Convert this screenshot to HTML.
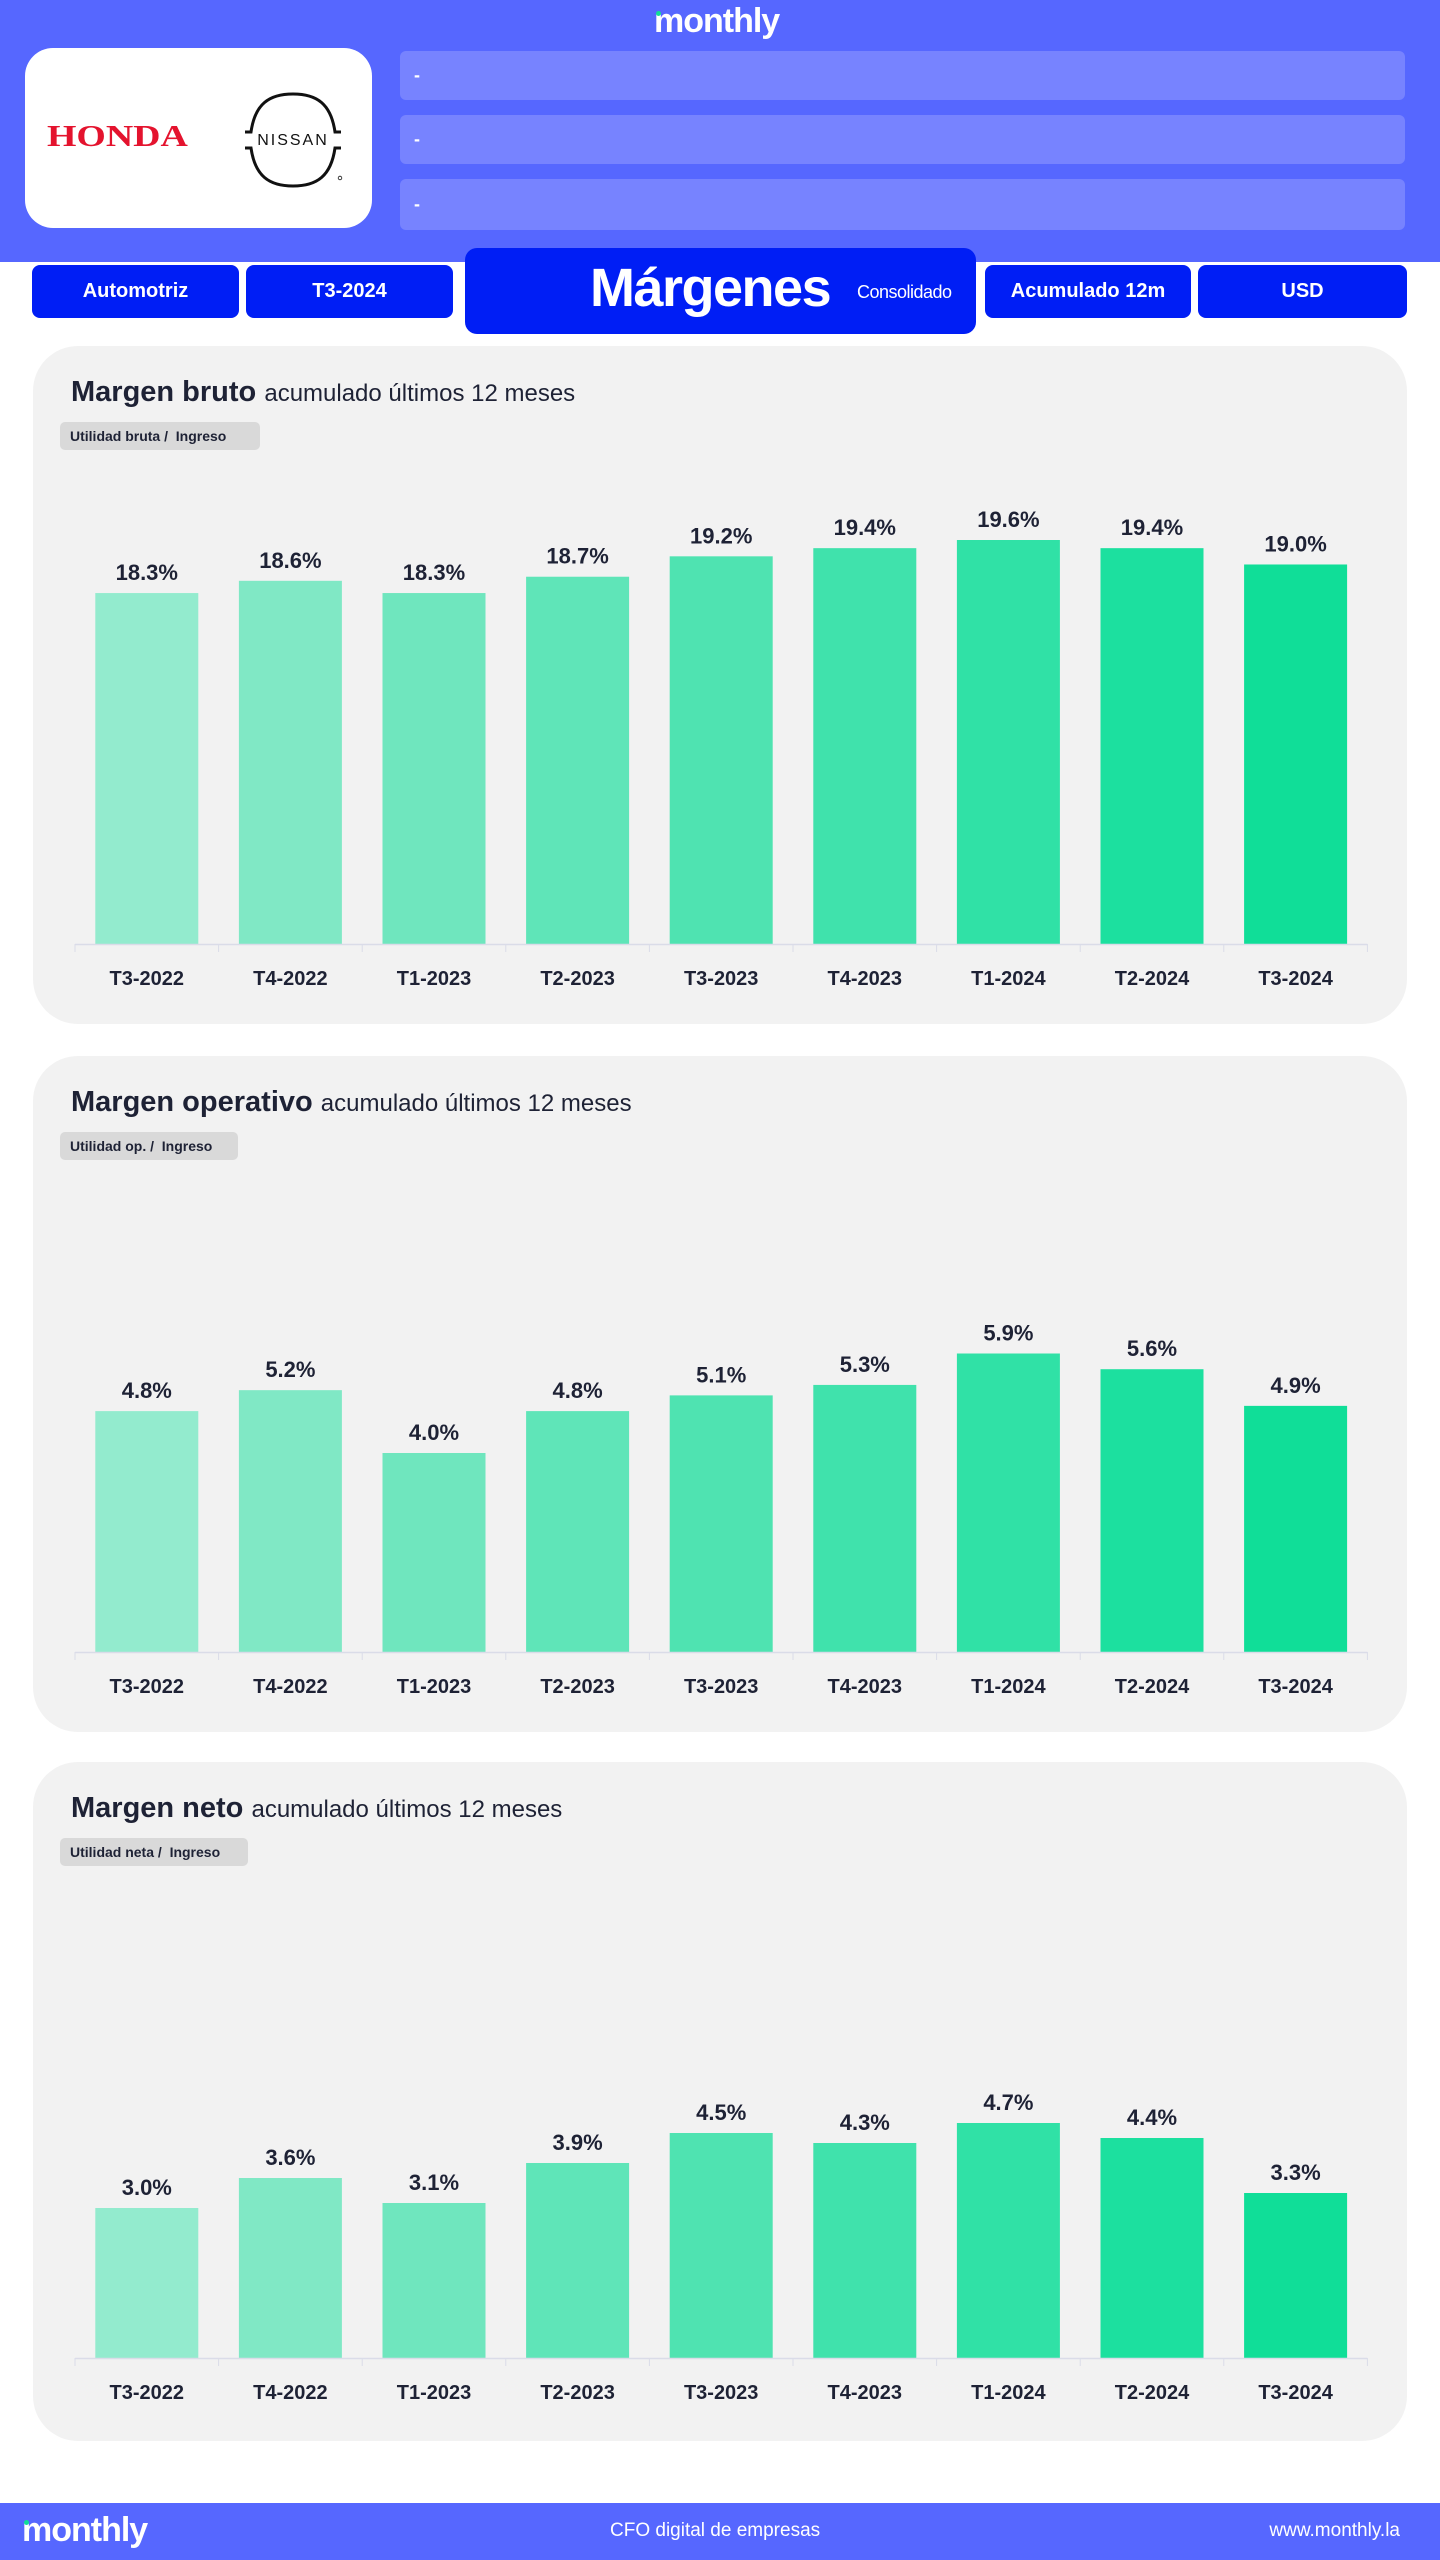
<!DOCTYPE html>
<html><head><meta charset="utf-8">
<style>
*{margin:0;padding:0;box-sizing:border-box}
body{width:1440px;height:2560px;position:relative;background:#fff;font-family:"Liberation Sans",sans-serif;overflow:hidden}
.abs{position:absolute}
.hdr{left:0;top:0;width:1440px;height:262px;background:#5667FF}
.info{left:400px;width:1005px;background:#7783FF;border-radius:6px;color:#fff;font-weight:bold;font-size:18px;padding-left:14px;display:flex;align-items:center}
.tab{top:265px;height:53px;background:#001EF5;border-radius:8px;color:#fff;font-weight:bold;font-size:20px;display:flex;align-items:center;justify-content:center}
.card{left:33px;width:1374px;background:#F2F2F2;border-radius:45px}
.title{left:38px;top:30px;font-size:29px;font-weight:bold;color:#1E2235;white-space:nowrap}
.title span{font-weight:normal;font-size:24px}
.pill{left:27px;top:76px;height:28px;background:#D9D9D9;border-radius:5px;font-size:14px;font-weight:bold;color:#1E2235;padding-left:10px;display:flex;align-items:center}
.foot{left:0;top:2503px;width:1440px;height:57px;background:#5667FF;color:#fff}
</style></head><body>
<div class="abs hdr"></div>
<div class="abs" style="left:654px;top:2px;font-size:34px;font-weight:bold;color:#fff;letter-spacing:-1px">monthly<span style="position:absolute;left:2px;top:9px;width:5px;height:5px;background:#10DE98;border-radius:50%"></span></div>
<div class="abs" style="left:25px;top:48px;width:347px;height:180px;background:#fff;border-radius:28px">
 <div class="abs" style="left:22px;top:70px;font-family:'Liberation Serif',serif;font-weight:bold;font-size:31px;color:#E4132E;transform:scaleX(1.22);transform-origin:left">HONDA</div>
 <svg class="abs" style="left:214px;top:42px" width="120" height="100" viewBox="0 0 120 100">
  <path d="M6 42 L12 42 C16 14,30 4,54 4 C78 4,92 14,96 42 L102 42" fill="none" stroke="#111" stroke-width="3"/>
  <path d="M6 58 L12 58 C16 86,30 96,54 96 C78 96,92 86,96 58 L102 58" fill="none" stroke="#111" stroke-width="3"/>
  <text x="54" y="55" text-anchor="middle" font-size="16" font-family="Liberation Sans" letter-spacing="2" fill="#111">NISSAN</text>
  <circle cx="101" cy="88" r="1.8" fill="none" stroke="#111" stroke-width="0.8"/>
 </svg>
</div>
<div class="abs info" style="top:51px;height:49px">-</div>
<div class="abs info" style="top:115px;height:49px">-</div>
<div class="abs info" style="top:179px;height:51px">-</div>
<div class="abs tab" style="left:32px;width:207px">Automotriz</div>
<div class="abs tab" style="left:246px;width:207px">T3-2024</div>
<div class="abs" style="left:465px;top:248px;width:511px;height:86px;background:#001EF5;border-radius:12px;color:#fff">
 <span class="abs" style="left:125px;top:9px;font-size:54px;font-weight:bold;letter-spacing:-1.5px">Márgenes</span>
 <span class="abs" style="left:392px;top:34px;font-size:18px;letter-spacing:-0.5px">Consolidado</span>
</div>
<div class="abs tab" style="left:985px;width:206px">Acumulado 12m</div>
<div class="abs tab" style="left:1198px;width:209px">USD</div>

<div class="abs card" style="top:346px;height:678px">
 <div class="abs title">Margen bruto <span>acumulado últimos 12 meses</span></div>
 <div class="abs pill" style="width:200px">Utilidad bruta /&nbsp; Ingreso</div>
 <svg class="abs" id="c1" style="left:0;top:0" width="1374" height="678"></svg>
</div>
<div class="abs card" style="top:1056px;height:676px">
 <div class="abs title">Margen operativo <span>acumulado últimos 12 meses</span></div>
 <div class="abs pill" style="width:178px">Utilidad op. /&nbsp; Ingreso</div>
 <svg class="abs" id="c2" style="left:0;top:0" width="1374" height="676"></svg>
</div>
<div class="abs card" style="top:1762px;height:679px">
 <div class="abs title">Margen neto <span>acumulado últimos 12 meses</span></div>
 <div class="abs pill" style="width:188px">Utilidad neta /&nbsp; Ingreso</div>
 <svg class="abs" id="c3" style="left:0;top:0" width="1374" height="679"></svg>
</div>

<div class="abs foot">
 <span class="abs" style="left:22px;top:8px;font-size:34px;font-weight:bold;letter-spacing:-1px">monthly<span style="position:absolute;left:2px;top:9px;width:5px;height:5px;background:#10DE98;border-radius:50%"></span></span>
 <span class="abs" style="left:610px;top:17px;font-size:19px">CFO digital de empresas</span>
 <span class="abs" style="right:40px;top:17px;font-size:19px">www.monthly.la</span>
</div>

<script>
const categories=["T3-2022","T4-2022","T1-2023","T2-2023","T3-2023","T4-2023","T1-2024","T2-2024","T3-2024"];
const grossMargin=[18.3,18.6,18.3,18.7,19.2,19.4,19.6,19.4,19.0];
const operatingMargin=[4.8,5.2,4.0,4.8,5.1,5.3,5.9,5.6,4.9];
const netMargin=[3.0,3.6,3.1,3.9,4.5,4.3,4.7,4.4,3.3];
const barColors=["#93EBCE","#80E8C5","#6FE6BE","#5FE5B8","#4FE3B1","#40E2AC","#30E1A6","#1CE09F","#10DE98"];
const NS="http://www.w3.org/2000/svg";
function drawChart(id,values,yMin,yMax,baseY,plotH){
  const svg=document.getElementById(id);
  const x0=42,band=143.6,bw=103;
  const xPos=i=>x0+band*i+band/2;
  const yScale=v=>baseY-(v-yMin)/(yMax-yMin)*plotH;
  values.forEach((v,i)=>{
    const r=document.createElementNS(NS,'rect');
    
    
    const y=yScale(v);
    r.setAttribute('x',xPos(i)-bw/2);r.setAttribute('y',y);
    r.setAttribute('width',bw);r.setAttribute('height',baseY-y);
    r.setAttribute('fill',barColors[i]);svg.appendChild(r);
    const t=document.createElementNS(NS,'text');
    
    
    t.setAttribute('x',xPos(i));t.setAttribute('y',y-13);
    t.setAttribute('text-anchor','middle');t.setAttribute('font-size','22');
    t.setAttribute('font-weight','bold');t.setAttribute('fill','#1E2235');
    t.textContent=v.toFixed(1)+'%';svg.appendChild(t);
    const c=document.createElementNS(NS,'text');
    
    
    c.setAttribute('x',xPos(i));c.setAttribute('y',baseY+41);
    c.setAttribute('text-anchor','middle');c.setAttribute('font-size','20');
    c.setAttribute('font-weight','bold');c.setAttribute('fill','#1E2235');
    c.textContent=categories[i];svg.appendChild(c);
  });
  const ax=document.createElementNS(NS,'line');
  
  
  ax.setAttribute('x1',x0);ax.setAttribute('x2',x0+band*categories.length);
  ax.setAttribute('y1',baseY+0.5);ax.setAttribute('y2',baseY+0.5);
  ax.setAttribute('stroke','#DADCE8');ax.setAttribute('stroke-width','1.5');svg.appendChild(ax);
  for(let i=0;i<=categories.length;i++){
    const tk=document.createElementNS(NS,'line');
    
    
    tk.setAttribute('x1',x0+band*i);tk.setAttribute('x2',x0+band*i);
    tk.setAttribute('y1',baseY);tk.setAttribute('y2',baseY+8);
    tk.setAttribute('stroke','#DADCE8');svg.appendChild(tk);
  }
}
drawChart('c1',grossMargin,9.7,19.6,598,404);
drawChart('c2',operatingMargin,0.2,5.9,596,298.5);
drawChart('c3',netMargin,0,4.7,596,235);
</script>
</body></html>
